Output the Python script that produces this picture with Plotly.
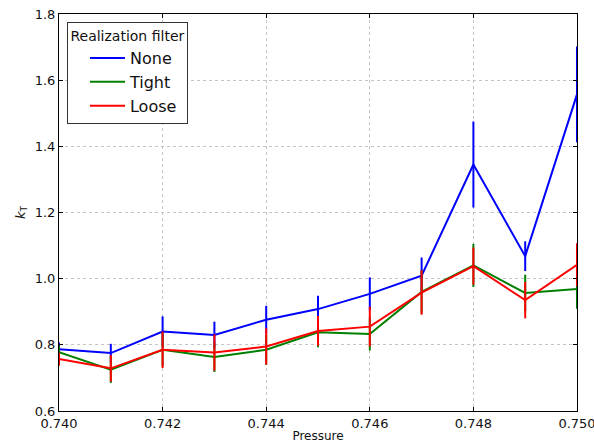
import plotly.graph_objects as go

# Pressure sweep and measured k_T for each realization filter
pressure = [0.740, 0.741, 0.742, 0.743, 0.744, 0.745, 0.746, 0.747, 0.748, 0.749, 0.750]

kt_none = [0.787, 0.775, 0.840, 0.830, 0.876, 0.908, 0.954, 1.009, 1.345, 1.068, 1.557]
err_none = [0.020, 0.028, 0.046, 0.040, 0.042, 0.040, 0.050, 0.055, 0.130, 0.045, 0.145]

kt_tight = [0.778, 0.725, 0.785, 0.763, 0.785, 0.838, 0.833, 0.960, 1.040, 0.957, 0.969]
err_tight = [0.020, 0.040, 0.050, 0.045, 0.045, 0.045, 0.050, 0.065, 0.065, 0.055, 0.060]

kt_loose = [0.757, 0.729, 0.785, 0.777, 0.795, 0.842, 0.855, 0.958, 1.038, 0.935, 1.042]
err_loose = [0.020, 0.040, 0.055, 0.055, 0.055, 0.045, 0.060, 0.067, 0.056, 0.055, 0.065]

series = [
    ("None", kt_none, err_none, "#0000ff"),
    ("Tight", kt_tight, err_tight, "#008000"),
    ("Loose", kt_loose, err_loose, "#ff0000"),
]

x_ticks = [0.740, 0.742, 0.744, 0.746, 0.748, 0.750]
y_ticks = [0.6, 0.8, 1.0, 1.2, 1.4, 1.6, 1.8]

fig = go.Figure()
for name, vals, errs, color in series:
    fig.add_trace(go.Scatter(
        x=pressure, y=vals, name=name, mode="lines",
        line=dict(color=color, width=2),
        error_y=dict(type="data", array=errs, visible=True,
                     color=color, thickness=2, width=0),
    ))

axis_common = dict(
    showline=True, linecolor="#000000", linewidth=1, mirror="ticks",
    ticks="inside", ticklen=4, tickcolor="#000000",
    showgrid=True, gridcolor="#c4c4c4", griddash="dot", gridwidth=1,
    zeroline=False, automargin=False, ticklabeloverflow="allow",
    tickfont=dict(family="DejaVu Sans", size=13, color="#111111"),
)

fig.update_xaxes(
    range=[0.7399999, 0.7500001], tickvals=x_ticks,
    ticktext=[f"{v:.3f}" for v in x_ticks],
    title=dict(text="Pressure", font=dict(family="DejaVu Sans", size=12, color="#111111"),
               standoff=2),
    **axis_common,
)
fig.update_yaxes(
    range=[0.6, 1.8], tickvals=y_ticks,
    ticktext=[f"{v:.1f}" for v in y_ticks],
    title=dict(text="<i>k</i><sub>T</sub>", font=dict(family="DejaVu Sans", size=13, color="#111111"),
               standoff=6),
    **axis_common,
)

fig.update_layout(
    width=594, height=444,
    margin=dict(l=59, r=17, t=14, b=33),
    plot_bgcolor="#ffffff", paper_bgcolor="#ffffff",
    showlegend=True,
    legend=dict(
        x=0.0154, y=0.98, xanchor="left", yanchor="top",
        bgcolor="#ffffff", bordercolor="#333333", borderwidth=1,
        indentation=17, itemwidth=35,
        font=dict(family="DejaVu Sans", size=16, color="#111111"),
        title=dict(text="Realization filter", side="top center",
                   font=dict(family="DejaVu Sans", size=14, color="#111111")),
    ),
)

fig.write_html("out.html")
